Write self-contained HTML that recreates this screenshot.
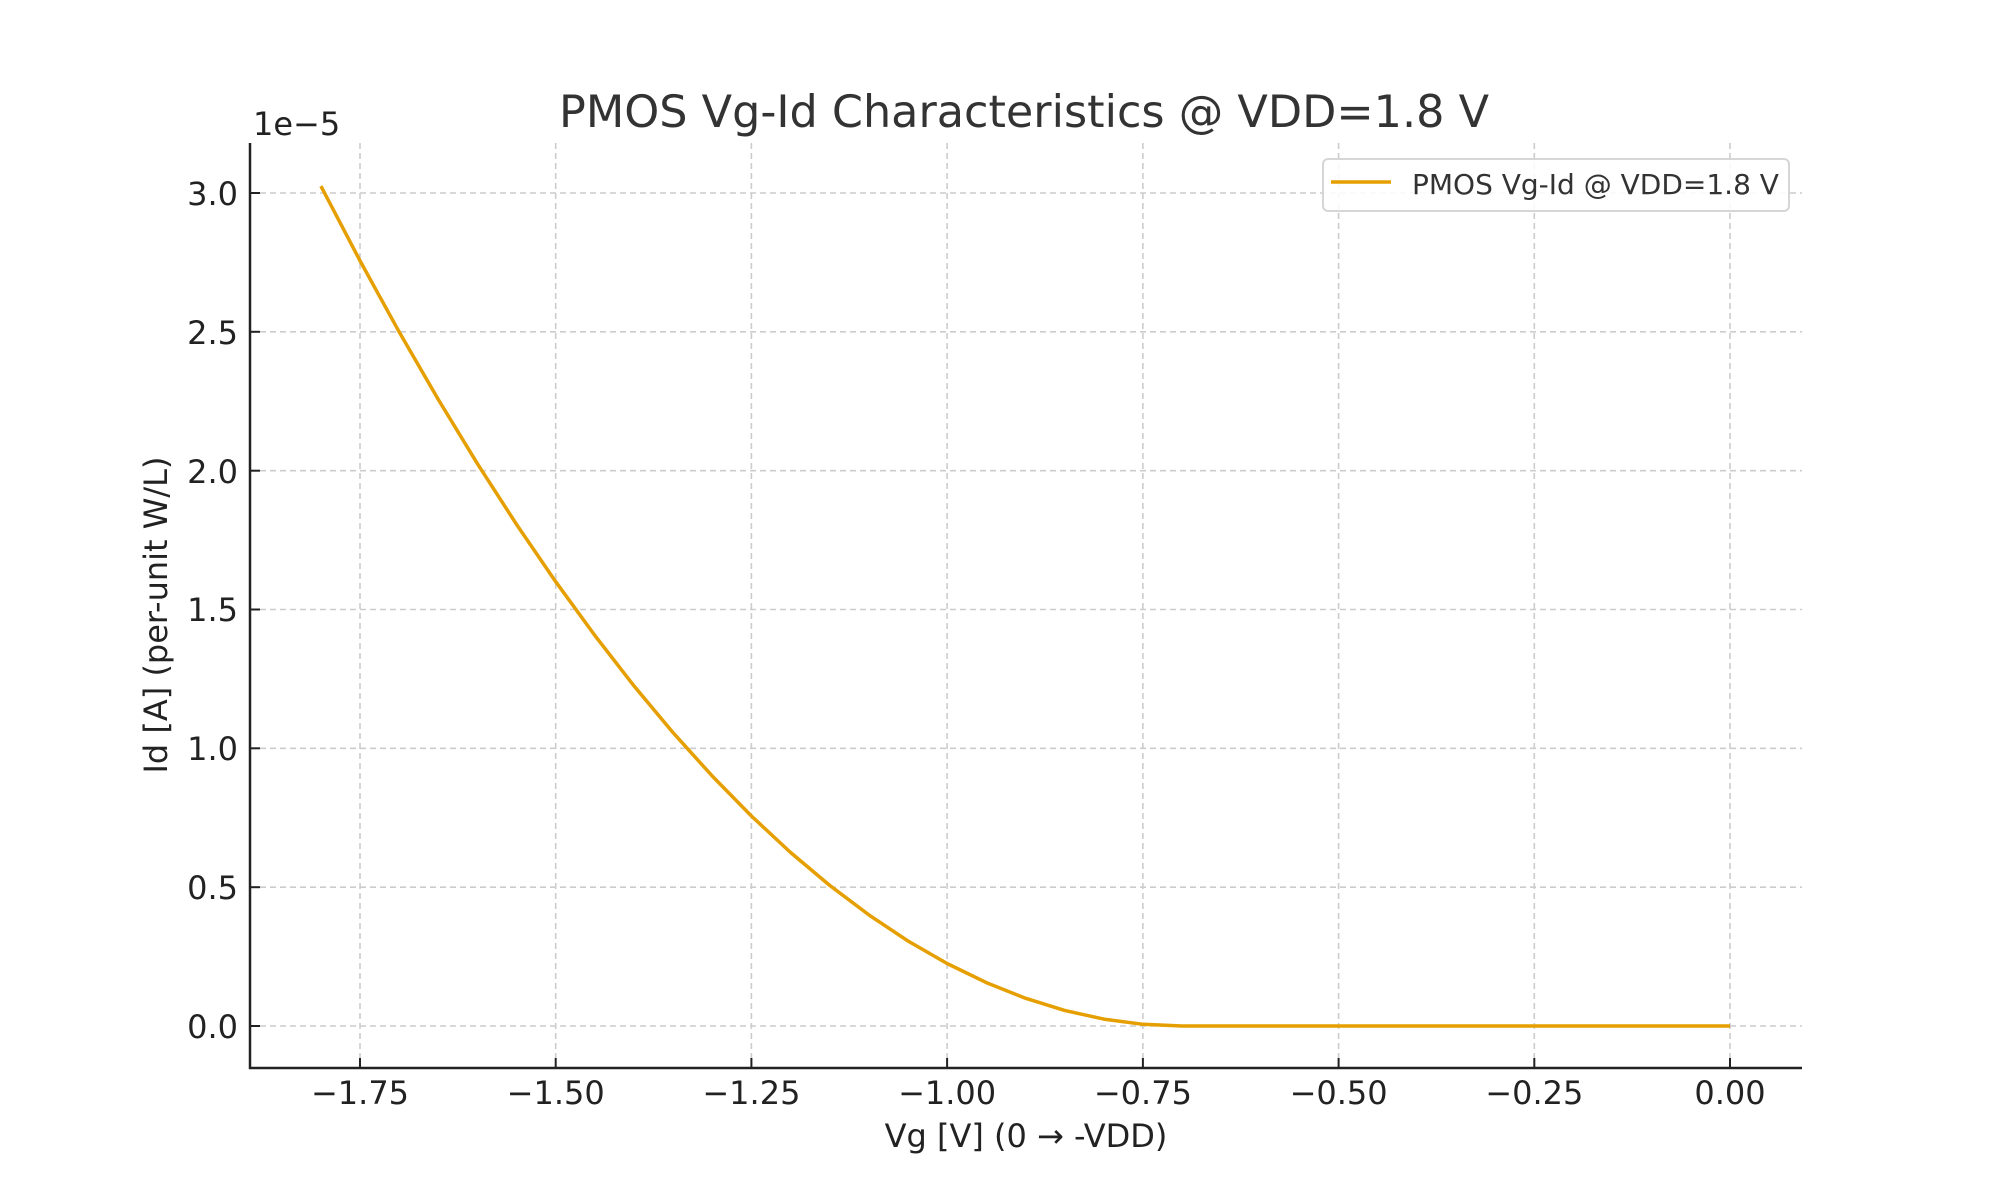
<!DOCTYPE html>
<html><head><style>body{margin:0;background:#fff}svg{display:block}</style></head><body>
<svg width="2000" height="1200" xmlns="http://www.w3.org/2000/svg" font-family="DejaVu Sans, Liberation Sans, sans-serif">
<rect width="2000" height="1200" fill="#fff"/>
<g stroke="#cccccc" stroke-width="1.6" stroke-dasharray="6,4">
<line x1="360" y1="143" x2="360" y2="1068"/><line x1="555.7" y1="143" x2="555.7" y2="1068"/><line x1="751.4" y1="143" x2="751.4" y2="1068"/><line x1="947.1" y1="143" x2="947.1" y2="1068"/><line x1="1142.9" y1="143" x2="1142.9" y2="1068"/><line x1="1338.6" y1="143" x2="1338.6" y2="1068"/><line x1="1534.3" y1="143" x2="1534.3" y2="1068"/><line x1="1730" y1="143" x2="1730" y2="1068"/>
<line x1="250" y1="1026" x2="1802" y2="1026"/><line x1="250" y1="887.2" x2="1802" y2="887.2"/><line x1="250" y1="748.3" x2="1802" y2="748.3"/><line x1="250" y1="609.5" x2="1802" y2="609.5"/><line x1="250" y1="470.7" x2="1802" y2="470.7"/><line x1="250" y1="331.8" x2="1802" y2="331.8"/><line x1="250" y1="193" x2="1802" y2="193"/>
</g>
<polyline fill="none" stroke="#e69f00" stroke-width="3.5" stroke-linejoin="round" points="320.9,186.1 360,260.7 399.1,331.8 438.3,399.5 477.4,463.7 516.6,524.5 555.7,581.7 594.9,635.5 634,685.9 673.1,732.7 712.3,776.1 751.4,816 790.6,852.5 829.7,885.4 868.9,914.9 908,941 947.1,963.5 986.3,982.6 1025.4,998.2 1064.6,1010.4 1103.7,1019.1 1142.9,1024.3 1182,1026 1730,1026"/>
<g stroke="#222" stroke-width="2.5">
<line x1="250" y1="143" x2="250" y2="1069"/><line x1="249" y1="1068" x2="1802" y2="1068"/>
</g>
<g stroke="#222" stroke-width="2">
<line x1="360" y1="1068" x2="360" y2="1058"/><line x1="555.7" y1="1068" x2="555.7" y2="1058"/><line x1="751.4" y1="1068" x2="751.4" y2="1058"/><line x1="947.1" y1="1068" x2="947.1" y2="1058"/><line x1="1142.9" y1="1068" x2="1142.9" y2="1058"/><line x1="1338.6" y1="1068" x2="1338.6" y2="1058"/><line x1="1534.3" y1="1068" x2="1534.3" y2="1058"/><line x1="1730" y1="1068" x2="1730" y2="1058"/>
<line x1="250" y1="1026" x2="260" y2="1026"/><line x1="250" y1="887.2" x2="260" y2="887.2"/><line x1="250" y1="748.3" x2="260" y2="748.3"/><line x1="250" y1="609.5" x2="260" y2="609.5"/><line x1="250" y1="470.7" x2="260" y2="470.7"/><line x1="250" y1="331.8" x2="260" y2="331.8"/><line x1="250" y1="193" x2="260" y2="193"/>
</g>
<g font-size="32" fill="#222" text-anchor="middle">
<text x="360" y="1104">−1.75</text><text x="555.7" y="1104">−1.50</text><text x="751.4" y="1104">−1.25</text><text x="947.1" y="1104">−1.00</text><text x="1142.9" y="1104">−0.75</text><text x="1338.6" y="1104">−0.50</text><text x="1534.3" y="1104">−0.25</text><text x="1730" y="1104">0.00</text>
</g>
<g font-size="32" fill="#222" text-anchor="end">
<text x="238" y="1038">0.0</text><text x="238" y="899">0.5</text><text x="238" y="760">1.0</text><text x="238" y="621">1.5</text><text x="238" y="483">2.0</text><text x="238" y="344">2.5</text><text x="238" y="205">3.0</text>
</g>
<text x="253" y="135" font-size="32" fill="#222">1e−5</text>
<text x="1024" y="127" font-size="44.5" fill="#333" text-anchor="middle">PMOS Vg-Id Characteristics @ VDD=1.8 V</text>
<text x="1026" y="1147" font-size="32" fill="#222" text-anchor="middle">Vg [V] (0 → -VDD)</text>
<text transform="translate(167,615) rotate(-90)" font-size="32" fill="#222" text-anchor="middle">Id [A] (per-unit W/L)</text>
<rect x="1323" y="159" width="466" height="52" rx="5" fill="#fff" fill-opacity="0.85" stroke="#d6d6d6" stroke-width="2"/>
<line x1="1331" y1="182" x2="1391" y2="182" stroke="#e69f00" stroke-width="3.5"/>
<text x="1412" y="194" font-size="28" fill="#333">PMOS Vg-Id @ VDD=1.8 V</text>
</svg>
</body></html>
